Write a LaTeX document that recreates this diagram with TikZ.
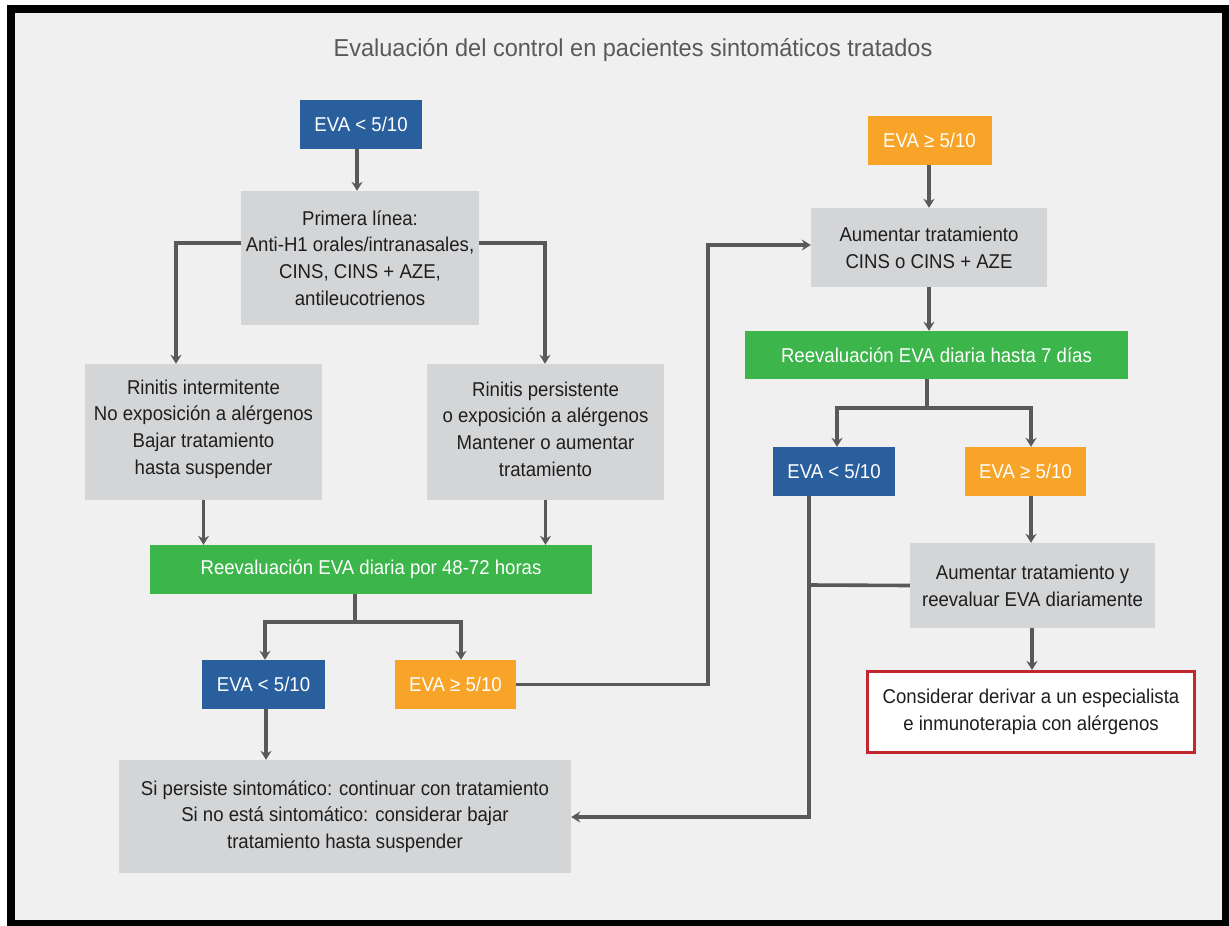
\documentclass[tikz,border=0pt]{standalone}
\usepackage{fontspec}
\setmainfont{Liberation Sans}[FakeStretch=0.93]
\newfontfamily\titlefont{Liberation Sans}[FakeStretch=0.96]
\usetikzlibrary{arrows.meta}
\definecolor{bgc}{HTML}{F0F0F0}
\definecolor{boxgray}{HTML}{D4D5D7}
\definecolor{evablue}{HTML}{2A5F9E}
\definecolor{evaorange}{HTML}{F7A428}
\definecolor{evagreen}{HTML}{3CB54A}
\definecolor{linegray}{HTML}{595959}
\definecolor{redborder}{HTML}{C1272D}
\definecolor{txt}{HTML}{1E1E1E}
\definecolor{titlec}{HTML}{595959}
\tikzset{
  base/.style={inner sep=0pt, align=center, font=\fontsize{20pt}{26.7pt}\selectfont},
  graybox/.style={base, fill=boxgray, text=txt},
  bluebox/.style={base, fill=evablue, text=white, minimum width=122pt, minimum height=49pt},
  orangebox/.style={base, fill=evaorange, text=white, minimum width=122pt, minimum height=49pt},
  greenbox/.style={base, fill=evagreen, text=white, minimum height=49pt},
  redbox/.style={base, fill=white, draw=redborder, line width=3pt, text=txt},
  conn/.style={draw=linegray, line width=3.6pt},
  arr/.style={conn, -{Stealth[length=9pt,width=11pt,inset=3pt]}},
}
\begin{document}
\begin{tikzpicture}[x=1pt,y=-1pt]
\useasboundingbox (0,0) rectangle (1229,926);
\fill[white] (0,0) rectangle (1229,926);
\fill[black] (7,5) rectangle (1229,926);
\fill[bgc] (15,13) rectangle (1222,920);

\node[text=titlec, inner sep=0pt, font=\titlefont\fontsize{24.5pt}{30pt}\selectfont] (title) at (633,50) {Evaluación del control en pacientes sintomáticos tratados};

% left column
\node[bluebox] (evaA) at (361,124) {EVA < 5/10};
\node[graybox, minimum width=238pt, minimum height=134pt] (prim) at (360,258)
  {Primera línea:\\Anti-H1 orales/intranasales,\\CINS, CINS + AZE,\\antileucotrienos};
\node[graybox, minimum width=237pt, minimum height=136pt] (rint) at (203.5,432)
  {Rinitis intermitente\\No exposición a alérgenos\\Bajar tratamiento\\hasta suspender\vspace{6pt}};
\node[graybox, minimum width=237pt, minimum height=136pt] (rpers) at (545.5,432)
  {Rinitis persistente\\o exposición a alérgenos\\Mantener o aumentar\\tratamiento\vspace{6pt}};
\node[greenbox, minimum width=442pt] (greenA) at (371,569.5) {Reevaluación EVA diaria por 48-72 horas};
\node[bluebox, minimum width=123pt] (evaB) at (263.5,684.5) {EVA < 5/10};
\node[orangebox, minimum width=121pt] (evaC) at (455.5,684.5) {EVA ≥ 5/10};
\node[graybox, minimum width=452pt, minimum height=113pt] (si) at (345,816.5)
  {Si persiste sintomático: continuar con tratamiento\\Si no está sintomático: considerar bajar\\tratamiento hasta suspender};

% right column
\node[orangebox, minimum width=124pt] (evaD) at (929.5,140) {EVA ≥ 5/10};
\node[graybox, minimum width=236pt, minimum height=79pt] (aum) at (929,247.5)
  {Aumentar tratamiento\\CINS o CINS + AZE};
\node[greenbox, minimum width=383pt, minimum height=48pt] (greenB) at (936.5,355) {Reevaluación EVA diaria hasta 7 días};
\node[bluebox] (evaE) at (834,471.5) {EVA < 5/10};
\node[orangebox, minimum width=121pt] (evaF) at (1025.5,471.5) {EVA ≥ 5/10};
\node[graybox, minimum width=245pt, minimum height=85pt] (aumB) at (1032.5,585.5)
  {Aumentar tratamiento y\\reevaluar EVA diariamente};
\node[redbox, minimum width=327pt, minimum height=81pt] (red) at (1031,712)
  {Considerar derivar a un especialista\\e inmunoterapia con alérgenos};

% coordinates
\coordinate (pL) at (176,243);
\coordinate (pR) at (545,243);
\coordinate (gA) at (355,622);
\coordinate (gAL) at (265,622);
\coordinate (gAR) at (461,622);
\coordinate (jA) at (708,245);
\coordinate (gB) at (927,408);
\coordinate (gBL) at (837,408);
\coordinate (gBR) at (1031,408);
\coordinate (vE) at (809,585);
\coordinate (vEb) at (809,817);

% connectors left
\draw[arr] (evaA.south -| 357,0) -- (prim.north -| 357,0);
\draw[arr] (prim.west |- pL) -- (pL) -- (rint.north -| pL);
\draw[arr] (prim.east |- pR) -- (pR) -- (rpers.north -| pR);
\draw[arr] (rint.south) -- (rint.south |- greenA.north);
\draw[arr] (rpers.south) -- (rpers.south |- greenA.north);
\draw[conn] (greenA.south -| gA) -- (gA);
\draw[arr] (gAL) -- (gAR) -- (evaC.north -| gAR);
\draw[arr] (gA) -- (gAL) -- (evaB.north -| gAL);
\draw[arr] (evaB.south -| 266,0) -- (si.north -| 266,0);
\draw[arr] (evaC.east) -| (jA) -- (aum.west |- jA);

% connectors right
\draw[arr] (evaD.south -| 929,0) -- (aum.north -| 929,0);
\draw[arr] (aum.south -| 929,0) -- (greenB.north -| 929,0);
\draw[conn] (greenB.south -| gB) -- (gB);
\draw[arr] (gB) -- (gBL) -- (evaE.north -| gBL);
\draw[arr] (gB) -- (gBR) -- (evaF.north -| gBR);
\draw[arr] (evaF.south -| gBR) -- (aumB.north -| gBR);
\draw[arr] (aumB.south -| 1032,0) -- (red.north -| 1032,0);
\draw[conn] (aumB.west) -- (vE);
\draw[arr] (evaE.south -| vE) -- (vEb) -- (si.east |- vEb);
\end{tikzpicture}
\end{document}
